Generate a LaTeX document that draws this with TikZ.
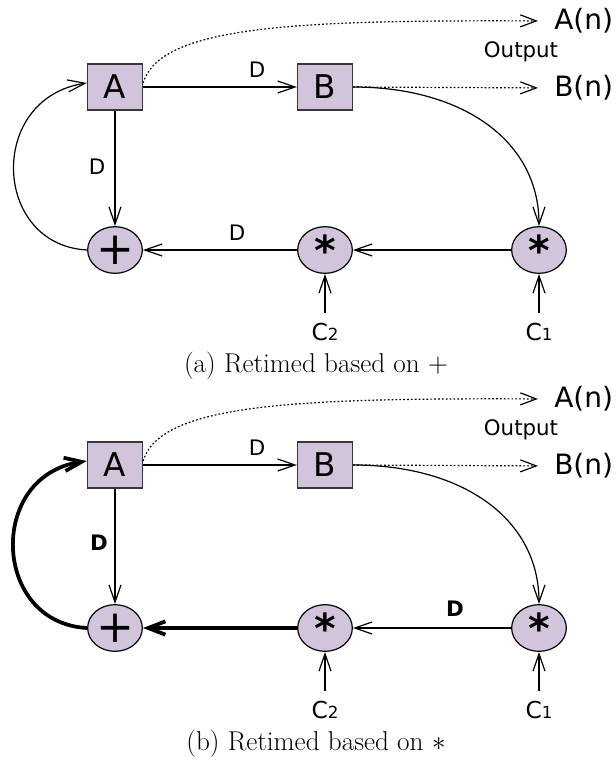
\documentclass[tikz,border=0pt]{standalone}
\usepackage{fontspec}
\usetikzlibrary{arrows.meta,shapes.geometric}
\newfontfamily\lab{DejaVu Sans}
\definecolor{nodefill}{RGB}{210,197,219}
\definecolor{edgegray}{RGB}{55,55,55}
\begin{document}
\begin{tikzpicture}[x=0.75pt,y=-0.75pt,
  reg/.style={rectangle, draw=edgegray, line width=1pt, fill=nodefill,
    minimum width=41.25pt, minimum height=34.5pt, inner sep=0pt,
    font=\lab\fontsize{24.5}{24.5}\selectfont},
  opplus/.style={ellipse, draw=black, line width=0.9pt, fill=nodefill,
    minimum width=41pt, minimum height=35pt, inner sep=0pt,
    font=\lab\fontsize{34}{34}\selectfont},
  opstar/.style={ellipse, draw=black, line width=0.9pt, fill=nodefill,
    minimum width=41pt, minimum height=35pt, inner sep=0pt,
    font=\lab\bfseries\fontsize{31}{31}\selectfont},
  edge/.style={line width=0.9pt, -{Straight Barb[length=13pt,width=9pt]}},
  boldedge/.style={line width=2.8pt, -{Straight Barb[length=13pt,width=10pt]}},
  dotout/.style={line width=0.9pt, dash pattern=on 1.3pt off 1.6pt,
    -{Straight Barb[length=12pt,width=9pt,sep=0pt]}, shorten >=12pt},
  dlab/.style={font=\lab\fontsize{16}{16}\selectfont, inner sep=0pt},
  dlabb/.style={font=\lab\bfseries\fontsize{16}{16}\selectfont, inner sep=0pt},
  outlab/.style={font=\lab\fontsize{21}{21}\selectfont, inner sep=0pt, anchor=west},
  otext/.style={font=\lab\fontsize{16}{16}\selectfont, inner sep=0pt},
  clab/.style={font=\lab\fontsize{17.5}{17.5}\selectfont, inner sep=0pt},
  captext/.style={font=\fontsize{20.4}{24}\selectfont, inner sep=0pt}
]
\useasboundingbox (0,0) rectangle (616,761);

% ---------------- panel (a) ----------------
\node[reg] (Aa) at (115,87) {A};
\node[reg] (Ba) at (325,87) {B};
\node[opplus] (Pa) at (115,250) {+};
\node[opstar] (S2a) at (325,250) {*};
\node[opstar] (S1a) at (539,250) {*};
\node[clab] (C2a) at (325,332) {C{\fontsize{12.5}{12.5}\selectfont 2}};
\node[clab] (C1a) at (539,332) {C{\fontsize{12.5}{12.5}\selectfont 1}};
\coordinate (c2a) at (325,313);
\coordinate (c1a) at (539,313);
\node[outlab] (Ana) at (554,21) {A(n)};
\node[otext] (Oa) at (521,52) {Output};
\node[outlab] (Bna) at (554,88) {B(n)};
\node[dlab] (d1a) at (257,70) {D};
\node[dlab] (d2a) at (97,167) {D};
\node[dlab] (d3a) at (237,233) {D};
\node[captext] (capa) at (316,366) {(a) Retimed based on $+$};

\draw[edge] (Aa) -- (Ba);
\draw[edge] (Aa) -- (Pa);
\draw[edge] (S2a) -- (Pa);
\draw[edge] (S1a) -- (S2a);
\draw[edge] (c2a) -- (S2a);
\draw[edge] (c1a) -- (S1a);
\draw[edge] (Pa.west) .. controls +(-95,-5) and +(-100,15) .. ([yshift=3pt]Aa.west);
\draw[edge] (Ba.east) .. controls +(110,0) and +(0,-85) .. (S1a.north);
\draw[dotout] ([yshift=3pt]Aa.east) .. controls (160,25) and (300,20) .. (Ana.west);
\draw[dotout] (Ba.east) -- (Bna.west);

% ---------------- panel (b) ----------------
\node[reg] (Ab) at (115,465) {A};
\node[reg] (Bb) at (325,465) {B};
\node[opplus] (Pb) at (115,628) {+};
\node[opstar] (S2b) at (325,628) {*};
\node[opstar] (S1b) at (539,628) {*};
\node[clab] (C2b) at (325,710) {C{\fontsize{12.5}{12.5}\selectfont 2}};
\node[clab] (C1b) at (539,710) {C{\fontsize{12.5}{12.5}\selectfont 1}};
\coordinate (c2b) at (325,691);
\coordinate (c1b) at (539,691);
\node[outlab] (Anb) at (554,399) {A(n)};
\node[otext] (Ob) at (521,430) {Output};
\node[outlab] (Bnb) at (554,466) {B(n)};
\node[dlab] (d1b) at (257,448) {D};
\node[dlabb] (d2b) at (99,543) {D};
\node[dlabb] (d3b) at (455,609) {D};
\node[captext] (capb) at (316,744) {(b) Retimed based on $\ast$};

\draw[edge] (Ab) -- (Bb);
\draw[edge] (Ab) -- (Pb);
\draw[boldedge] (S2b) -- (Pb);
\draw[edge] (S1b) -- (S2b);
\draw[edge] (c2b) -- (S2b);
\draw[edge] (c1b) -- (S1b);
\draw[boldedge] (Pb.west) .. controls +(-95,-5) and +(-100,15) .. ([yshift=3pt]Ab.west);
\draw[edge] (Bb.east) .. controls +(110,0) and +(0,-85) .. (S1b.north);
\draw[dotout] ([yshift=3pt]Ab.east) .. controls (160,403) and (300,398) .. (Anb.west);
\draw[dotout] (Bb.east) -- (Bnb.west);
\end{tikzpicture}
\end{document}
